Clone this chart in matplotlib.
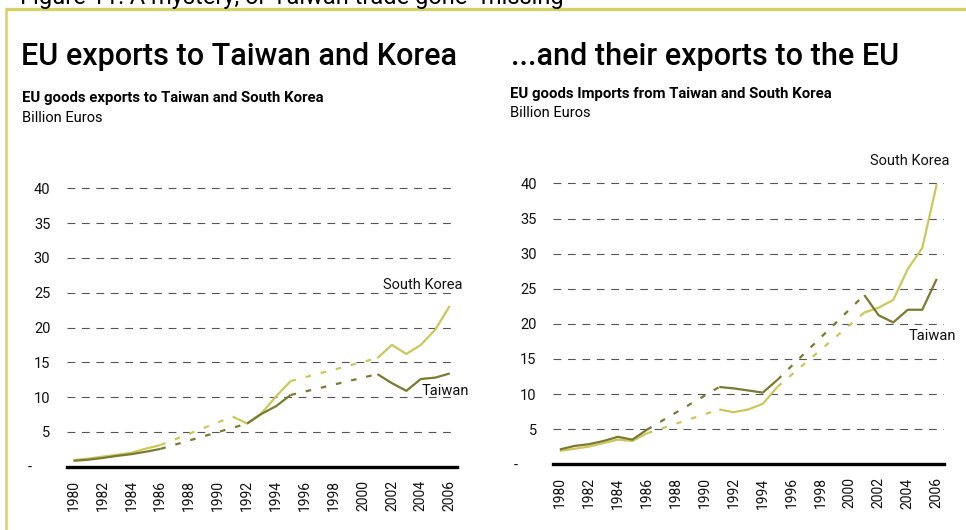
import numpy as np
import matplotlib.pyplot as plt
import matplotlib.transforms as mtransforms
from matplotlib.lines import Line2D

plt.rcParams['font.family'] = ['Roboto', 'DejaVu Sans']

# EU trade with Taiwan and South Korea, billion euros (None = no figure for that year)
years = list(range(1980, 2007))

exports_korea = [0.95, 1.15, 1.45, 1.7, 2.0, 2.6, 3.1, None, None, None, None,
                 7.2, 6.2, 7.7, 10.1, 12.3, None, None, None, None, None,
                 15.6, 17.5, 16.2, 17.5, 19.7, 23.1]
exports_taiwan = [0.85, 1.0, 1.25, 1.55, 1.8, 2.15, 2.55, None, None, None, None,
                  None, 6.2, 7.6, 8.7, 10.3, None, None, None, None, None,
                  13.3, 12.0, 10.9, 12.6, 12.8, 13.4]
imports_korea = [1.9, 2.2, 2.5, 3.0, 3.5, 3.3, 4.4, None, None, None, None,
                 7.8, 7.4, 7.8, 8.6, 11.0, None, None, None, None, None,
                 21.6, 22.3, 23.4, 27.8, 30.8, 39.9]
imports_taiwan = [2.1, 2.6, 2.85, 3.3, 3.9, 3.5, 4.9, None, None, None, None,
                  11.0, 10.8, 10.5, 10.2, 12.0, None, None, None, None, None,
                  24.1, 21.2, 20.2, 22.0, 22.0, 26.4]

y_ticks = list(range(0, 45, 5))
y_labels = ['-'] + [str(v) for v in y_ticks[1:]]
x_ticks = list(range(1980, 2007, 2))

KOREA = '#cdc75a'
TAIWAN = '#7b7a30'
FRAME = '#d6d066'

W, H = 966, 530
fig = plt.figure(figsize=(W / 100, H / 100), dpi=100)


def fx(x):
    return x / W


def fy(y):
    return 1 - y / H


def draw_series(ax, vals, color):
    x = np.array(years, dtype=float)
    y = np.array([np.nan if v is None else v for v in vals], dtype=float)
    ax.plot(x, y, color=color, lw=1.6, solid_capstyle='butt')
    # join the gaps in the data with a dashed segment
    idx = np.flatnonzero(~np.isnan(y))
    for a, b in zip(idx[:-1], idx[1:]):
        if b - a > 1:
            ax.plot([x[a], x[b]], [y[a], y[b]], color=color, lw=1.6,
                    ls=(0, (2.5, 4.5)), dash_capstyle='butt')


def setup(ax):
    ax.set_xlim(1979.55, 2006.5)
    ax.set_ylim(0, 40.5)
    ax.set_yticks(y_ticks)
    ax.set_yticklabels(y_labels)
    ax.set_xticks(x_ticks)
    ax.set_xticklabels([str(t) for t in x_ticks], rotation=90)
    for s in ['top', 'right', 'left']:
        ax.spines[s].set_visible(False)
    ax.spines['bottom'].set_linewidth(2.4)
    ax.spines['bottom'].set_color('black')
    ax.yaxis.grid(True, color='#555555', lw=0.8, ls=(0, (7, 6)))
    ax.set_axisbelow(True)
    ax.tick_params(axis='y', length=0, pad=12, labelsize=10.5, labelcolor='#111111')
    ax.tick_params(axis='x', length=0, pad=9.5, labelsize=10, labelcolor='#111111')
    # the zero label ("-") sits further left than the numbers
    lab = ax.get_yticklabels()[0]
    lab.set_transform(lab.get_transform() +
                      mtransforms.ScaledTranslation(-0.19, 0, fig.dpi_scale_trans))


ax1 = fig.add_axes([fx(67), fy(466.7), fx(390), 40.5 * 6.96 / H])
ax2 = fig.add_axes([fx(553.3), fy(464.2), fx(390.7), 40.5 * 7.02 / H])

for ax in (ax1, ax2):
    setup(ax)

draw_series(ax1, exports_korea, KOREA)
draw_series(ax1, exports_taiwan, TAIWAN)
draw_series(ax2, imports_korea, KOREA)
draw_series(ax2, imports_taiwan, TAIWAN)

ax1.text(2004.1, 26.1, 'South Korea', ha='center', va='center', fontsize=10.5, color='#111111')
ax1.text(2005.66, 10.9, 'Taiwan', ha='center', va='center', fontsize=10.5, color='#111111')
ax2.text(2004.15, 43.2, 'South Korea', ha='center', va='center', fontsize=10.5,
         color='#111111', clip_on=False)
ax2.text(2005.68, 18.3, 'Taiwan', ha='center', va='center', fontsize=10.5, color='#111111')

# headings
fig.text(fx(21), fy(65), 'EU exports to Taiwan and Korea', fontsize=22,
         fontweight='medium', va='baseline')
fig.text(fx(511), fy(65), '...and their exports to the EU', fontsize=22,
         fontweight='medium', va='baseline')
fig.text(fx(22), fy(101.7), 'EU goods exports to Taiwan and South Korea', fontsize=10.7,
         fontweight='bold', va='baseline')
fig.text(fx(510), fy(98.3), 'EU goods Imports from Taiwan and South Korea', fontsize=10.7,
         fontweight='bold', va='baseline')
fig.text(fx(22), fy(121.7), 'Billion Euros', fontsize=10.5, va='baseline')
fig.text(fx(510), fy(117.3), 'Billion Euros', fontsize=10.5, va='baseline')
fig.text(fx(20), fy(4), 'Figure 11: A mystery, or Taiwan trade gone "missing"',
         fontsize=17, va='baseline')

# yellow frame along the top and left edge
fig.add_artist(Line2D([fx(5), 1], [fy(9), fy(9)], color=FRAME, lw=2.4,
                      transform=fig.transFigure, solid_capstyle='butt'))
fig.add_artist(Line2D([fx(6), fx(6)], [fy(9), 0], color=FRAME, lw=1.8,
                      transform=fig.transFigure, solid_capstyle='butt'))

fig.savefig('out.png', dpi=100)
